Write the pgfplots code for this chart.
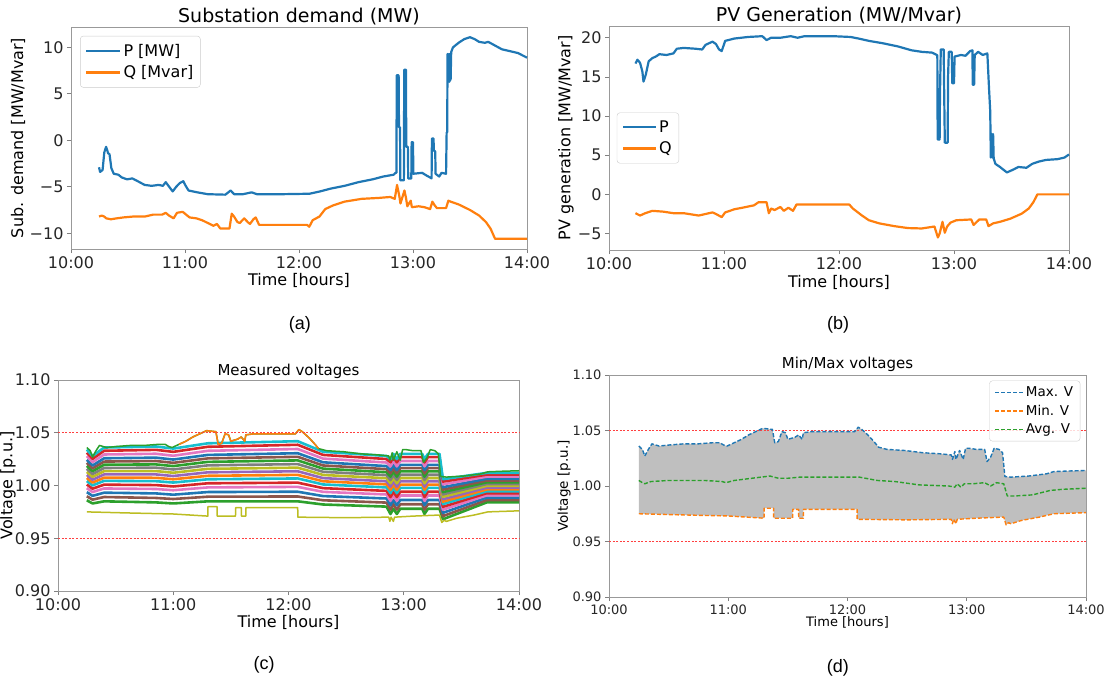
\documentclass[border=0pt]{standalone}
\usepackage{fontspec}
\setmainfont{DejaVu Sans}
\newfontfamily\arialf{Liberation Sans}
\usepackage{pgfplots}
\usepackage{pgfplotstable}
\pgfplotsset{compat=1.18}
\definecolor{tabblue}{HTML}{1F77B4}
\definecolor{taborange}{HTML}{FF7F0E}
\definecolor{tabgreen}{HTML}{2CA02C}
\definecolor{tabred}{HTML}{D62728}
\definecolor{tabpurple}{HTML}{9467BD}
\definecolor{tabbrown}{HTML}{8C564B}
\definecolor{tabpink}{HTML}{E377C2}
\definecolor{tabgray}{HTML}{7F7F7F}
\definecolor{tabolive}{HTML}{BCBD22}
\definecolor{tabcyan}{HTML}{17BECF}
\definecolor{fillgray}{HTML}{BFBFBF}
\newcommand\fs[1]{\fontsize{#1}{#1}\selectfont}
\pgfplotscreateplotcyclelist{tab}{
{tabgreen,line width=2.6pt},{tabbrown,line width=2.6pt},{tabblue,line width=2.6pt},{tabpink,line width=2.6pt},{tabred,line width=2.6pt},
{tabcyan,line width=2.6pt},{taborange,line width=2.6pt},{tabpurple,line width=2.6pt},{tabolive,line width=2.6pt},{tabgray,line width=2.6pt}}
\pgfplotsset{
 every axis title shift=0pt,
 mpl/.style={scale only axis, anchor=south west, clip=false,
  xmin=10, xmax=14, xtick={10,11,12,13,14},
  xticklabels={10:00,11:00,12:00,13:00,14:00},
  axis line style={black!40, line width=0.8pt},
  tick align=outside, tick pos=left, major tick length=4pt,
  tick style={black!50, line width=0.8pt},
  legend cell align=left,
  every axis plot/.append style={line join=round},
 },
 redlim/.style={red!75, dash pattern=on 2pt off 1.6pt, line width=1.2pt},
}
\pgfplotstableread{
t v
10.25 1.036
10.28 1.033
10.30 1.027
10.33 1.033
10.36 1.038
10.42 1.036
10.51 1.037
10.63 1.038
10.75 1.038
10.87 1.039
10.93 1.039
10.96 1.037
10.99 1.036
11.05 1.039
11.11 1.042
11.17 1.046
11.23 1.049
11.29 1.052
11.37 1.051
11.39 1.039
11.42 1.040
11.45 1.049
11.48 1.048
11.50 1.042
11.56 1.044
11.59 1.046
11.62 1.042
11.63 1.048
11.70 1.049
11.88 1.049
12.06 1.049
12.09 1.053
12.12 1.051
12.18 1.045
12.23 1.039
12.26 1.035
12.33 1.033
12.48 1.032
12.63 1.030
12.78 1.029
12.87 1.028
12.88 1.024
12.90 1.031
12.91 1.024
12.94 1.032
12.97 1.024
12.99 1.034
13.02 1.034
13.08 1.033
13.15 1.033
13.17 1.022
13.20 1.026
13.23 1.034
13.27 1.033
13.30 1.030
13.32 1.0085
13.37 1.008
13.52 1.009
13.67 1.011
13.73 1.013
13.85 1.0135
14.00 1.014
}\maxtab
\pgfplotstableread{
t v
10.25 0.975
10.60 0.974
11.00 0.973
11.30 0.971
11.301 0.980
11.38 0.980
11.381 0.971
11.54 0.971
11.541 0.979
11.59 0.979
11.591 0.971
11.63 0.971
11.631 0.979
12.08 0.979
12.081 0.970
12.50 0.9695
12.87 0.970
12.88 0.966
12.89 0.970
12.91 0.966
12.92 0.970
13.08 0.971
13.31 0.972
13.33 0.965
13.35 0.967
13.37 0.966
13.46 0.969
13.61 0.972
13.73 0.975
14.00 0.976
}\mintab
\pgfplotstableread{
t v
10.25 1.005
10.28 1.003
10.30 1.002
10.35 1.004
10.50 1.005
10.80 1.005
10.95 1.004
10.98 1.003
11.05 1.005
11.20 1.007
11.35 1.009
11.42 1.007
11.50 1.007
11.60 1.008
11.80 1.008
12.10 1.008
12.25 1.005
12.40 1.004
12.60 1.001
12.85 1.000
12.90 0.999
12.92 1.002
12.95 0.999
12.98 1.002
13.05 1.002
13.15 1.003
13.20 1.000
13.25 1.003
13.31 1.002
13.34 0.991
13.40 0.991
13.55 0.992
13.70 0.996
13.80 0.997
14.00 0.998
}\avgtab
\pgfplotstableread{
t a0 a1 a2 a3 a4 a5 a6 a7 a8 a9 a10 a11 a12 a13 a14 a15
10.25 0.9860 0.9898 0.9937 0.9975 1.0009 1.0042 1.0071 1.0100 1.0129 1.0158 1.0186 1.0215 1.0244 1.0278 1.0311 1.0340
10.30 0.9830 0.9866 0.9902 0.9938 0.9970 1.0001 1.0028 1.0055 1.0082 1.0109 1.0136 1.0163 1.0190 1.0222 1.0253 1.0280
10.40 0.9850 0.9891 0.9932 0.9972 1.0008 1.0044 1.0074 1.0105 1.0136 1.0166 1.0197 1.0227 1.0258 1.0294 1.0329 1.0360
10.85 0.9840 0.9882 0.9925 0.9967 1.0004 1.0041 1.0073 1.0105 1.0137 1.0169 1.0200 1.0232 1.0264 1.0301 1.0338 1.0370
11.00 0.9830 0.9872 0.9913 0.9955 0.9991 1.0028 1.0059 1.0090 1.0121 1.0152 1.0184 1.0215 1.0246 1.0282 1.0319 1.0350
11.30 0.9850 0.9894 0.9938 0.9982 1.0021 1.0059 1.0092 1.0125 1.0158 1.0191 1.0224 1.0257 1.0290 1.0329 1.0367 1.0400
12.08 0.9850 0.9896 0.9941 0.9987 1.0027 1.0067 1.0101 1.0135 1.0169 1.0203 1.0238 1.0272 1.0306 1.0346 1.0386 1.0420
12.30 0.9820 0.9860 0.9900 0.9940 0.9975 1.0010 1.0040 1.0070 1.0100 1.0130 1.0160 1.0190 1.0220 1.0255 1.0290 1.0320
12.85 0.9800 0.9838 0.9877 0.9915 0.9949 0.9982 1.0011 1.0040 1.0069 1.0098 1.0126 1.0155 1.0184 1.0218 1.0251 1.0280
12.885 0.9730 0.9772 0.9813 0.9855 0.9891 0.9928 0.9959 0.9990 1.0021 1.0052 1.0084 1.0115 1.0146 1.0182 1.0219 1.0250
12.91 0.9780 0.9822 0.9863 0.9905 0.9941 0.9978 1.0009 1.0040 1.0071 1.0102 1.0134 1.0165 1.0196 1.0232 1.0269 1.0300
12.94 0.9730 0.9772 0.9813 0.9855 0.9891 0.9928 0.9959 0.9990 1.0021 1.0052 1.0084 1.0115 1.0146 1.0182 1.0219 1.0250
12.97 0.9780 0.9822 0.9863 0.9905 0.9941 0.9978 1.0009 1.0040 1.0071 1.0102 1.0134 1.0165 1.0196 1.0232 1.0269 1.0300
13.16 0.9780 0.9822 0.9863 0.9905 0.9941 0.9978 1.0009 1.0040 1.0071 1.0102 1.0134 1.0165 1.0196 1.0232 1.0269 1.0300
13.18 0.9730 0.9772 0.9813 0.9855 0.9891 0.9928 0.9959 0.9990 1.0021 1.0052 1.0084 1.0115 1.0146 1.0182 1.0219 1.0250
13.21 0.9780 0.9822 0.9863 0.9905 0.9941 0.9978 1.0009 1.0040 1.0071 1.0102 1.0134 1.0165 1.0196 1.0232 1.0269 1.0300
13.31 0.9780 0.9822 0.9863 0.9905 0.9941 0.9978 1.0009 1.0040 1.0071 1.0102 1.0134 1.0165 1.0196 1.0232 1.0269 1.0300
13.34 0.9680 0.9710 0.9741 0.9771 0.9798 0.9824 0.9847 0.9870 0.9893 0.9916 0.9938 0.9961 0.9984 1.0011 1.0037 1.0060
13.72 0.9840 0.9862 0.9885 0.9907 0.9927 0.9946 0.9963 0.9980 0.9997 1.0014 1.0030 1.0047 1.0064 1.0084 1.0103 1.0120
14.00 0.9840 0.9862 0.9885 0.9907 0.9927 0.9946 0.9963 0.9980 0.9997 1.0014 1.0030 1.0047 1.0064 1.0084 1.0103 1.0120
}\bandtab
\begin{document}
\begin{tikzpicture}
\path[use as bounding box] (0pt,0pt) rectangle (1105pt,-680pt);
% ---------------- (a)
\begin{axis}[mpl, at={(71pt,-249pt)}, width=456pt, height=222pt,
 ymin=-11.7, ymax=12.2, ytick={-10,-5,0,5,10}, yticklabels={−10,−5,0,5,10},
 ticklabel style={font=\fs{16}, text=black!85},
 title={Substation demand (MW)}, title style={font=\fs{19}, at={(axis description cs:0.5,1.045)}, anchor=center},
 xlabel={Time [hours]}, xlabel style={font=\fs{16}, at={(axis description cs:0.5,-0.14)}, anchor=center},
 ylabel={Sub. demand [MW/Mvar]}, ylabel style={font=\fs{16}, at={(axis description cs:-0.116,0.5)}, anchor=center},
 legend style={at={(0.02,0.96)}, anchor=north west, font=\fs{16}, draw=black!20, rounded corners=3pt, fill=white, fill opacity=0.8, text opacity=1, inner xsep=5pt, inner ysep=6pt, row sep=4pt},
 legend image code/.code={\draw[#1] (0pt,0pt) -- (34pt,0pt);},
]
\addplot[tabblue, line width=2.2pt] coordinates {(10.246,-2.9)(10.255,-3.4)(10.277,-3.2)(10.292,-1.3)(10.308,-0.7)(10.326,-1.4)(10.338,-1.5)(10.354,-3.0)(10.375,-3.6)(10.415,-3.7)(10.446,-4.0)(10.492,-4.2)(10.538,-4.1)(10.585,-4.4)(10.646,-4.8)(10.708,-4.9)(10.769,-4.8)(10.806,-4.9)(10.831,-4.5)(10.855,-4.9)(10.892,-5.5)(10.923,-5.0)(10.954,-4.6)(10.985,-4.4)(11.006,-4.9)(11.031,-5.4)(11.108,-5.6)(11.2,-5.8)(11.354,-5.85)(11.4,-5.4)(11.431,-5.8)(11.508,-5.8)(11.585,-5.6)(11.631,-5.8)(11.846,-5.8)(12.092,-5.75)(12.185,-5.5)(12.277,-5.2)(12.4,-4.9)(12.523,-4.5)(12.646,-4.2)(12.738,-3.9)(12.831,-3.7)(12.846,-3.5)(12.855,-3.5)(12.857,7.0)(12.874,7.0)(12.877,1.4)(12.886,1.4)(12.889,-4.3)(12.92,-4.3)(12.923,7.6)(12.938,7.6)(12.941,-0.7)(12.955,-0.7)(12.958,-4.1)(12.985,-4.1)(12.988,-0.2)(13.0,-0.2)(13.003,-3.6)(13.08,-3.5)(13.12,-3.8)(13.15,-4.0)(13.163,-4.1)(13.166,0.2)(13.18,0.2)(13.183,-1.1)(13.195,-1.2)(13.198,-3.6)(13.23,-3.9)(13.25,-3.5)(13.29,-3.6)(13.295,0.8)(13.30,0.9)(13.303,9.3)(13.31,6.3)(13.315,9.3)(13.32,6.3)(13.325,9.3)(13.33,6.5)(13.335,9.5)(13.35,10.0)(13.40,10.5)(13.45,10.9)(13.50,11.1)(13.54,10.9)(13.58,10.6)(13.63,10.5)(13.66,10.6)(13.72,10.2)(13.78,9.8)(13.85,9.6)(13.92,9.4)(14.0,8.9)};
\addlegendentry{P [MW]}
\addplot[taborange, line width=2.2pt] coordinates {(10.246,-8.2)(10.27,-8.1)(10.29,-8.2)(10.31,-8.4)(10.35,-8.5)(10.40,-8.4)(10.46,-8.3)(10.55,-8.2)(10.65,-8.2)(10.72,-8.0)(10.80,-8.0)(10.83,-7.8)(10.86,-8.1)(10.90,-8.4)(10.93,-7.8)(10.98,-7.7)(11.01,-8.0)(11.04,-8.3)(11.10,-8.4)(11.15,-8.6)(11.20,-8.9)(11.25,-9.2)(11.28,-9.0)(11.31,-9.5)(11.39,-9.5)(11.41,-7.9)(11.43,-8.2)(11.46,-8.8)(11.48,-8.9)(11.52,-8.4)(11.55,-8.8)(11.57,-9.0)(11.60,-8.5)(11.62,-8.3)(11.65,-9.1)(11.80,-9.1)(12.07,-9.1)(12.09,-9.3)(12.12,-8.6)(12.18,-8.2)(12.23,-7.4)(12.30,-7.0)(12.40,-6.6)(12.55,-6.3)(12.70,-6.2)(12.80,-6.1)(12.84,-6.3)(12.86,-4.8)(12.87,-5.4)(12.88,-6.0)(12.89,-6.8)(12.91,-6.0)(12.925,-5.4)(12.94,-6.3)(12.95,-7.1)(12.98,-6.5)(12.99,-7.2)(13.05,-7.1)(13.10,-7.2)(13.15,-7.4)(13.17,-6.6)(13.19,-7.0)(13.21,-7.3)(13.29,-7.3)(13.31,-6.5)(13.33,-6.6)(13.40,-6.9)(13.50,-7.5)(13.58,-8.1)(13.64,-8.8)(13.68,-9.5)(13.72,-10.6)(14.0,-10.6)};
\addlegendentry{Q [Mvar]}
\node[font=\arialf\fs{18}] at (axis description cs:0.502,-0.342) {(a)};
\end{axis}
% ---------------- (b)
\begin{axis}[mpl, at={(609pt,-250pt)}, width=460pt, height=224pt,
 ymin=-7.1, ymax=21.5, ytick={-5,0,5,10,15,20}, yticklabels={−5,0,5,10,15,20},
 ticklabel style={font=\fs{16}, text=black!85},
 title={PV Generation (MW/Mvar)}, title style={font=\fs{19}, at={(axis description cs:0.5,1.045)}, anchor=center},
 xlabel={Time [hours]}, xlabel style={font=\fs{16}, at={(axis description cs:0.5,-0.147)}, anchor=center},
 ylabel={PV generation [MW/Mvar]}, ylabel style={font=\fs{16}, at={(axis description cs:-0.0935,0.5)}, anchor=center},
 legend style={at={(0.017,0.5)}, anchor=west, font=\fs{16}, draw=black!20, rounded corners=3pt, fill=white, fill opacity=0.8, text opacity=1, inner xsep=5pt, inner ysep=6pt, row sep=4pt},
 legend image code/.code={\draw[#1] (0pt,0pt) -- (33pt,0pt);},
]
\addplot[tabblue, line width=2.2pt] coordinates {(10.23,16.7)(10.247,17.2)(10.27,16.8)(10.29,15.7)(10.30,14.4)(10.32,15.3)(10.345,17.0)(10.377,17.4)(10.407,17.6)(10.438,17.9)(10.50,17.8)(10.56,18.0)(10.59,18.6)(10.65,18.7)(10.75,18.6)(10.81,18.5)(10.84,19.1)(10.90,19.5)(10.93,19.2)(10.957,18.5)(10.98,18.3)(11.01,19.6)(11.09,19.9)(11.21,20.1)(11.333,20.2)(11.37,19.7)(11.41,20.0)(11.49,20.0)(11.58,20.2)(11.64,20.0)(11.70,20.2)(11.95,20.2)(12.10,20.1)(12.17,19.9)(12.26,19.6)(12.38,19.3)(12.51,18.9)(12.63,18.4)(12.72,18.2)(12.81,18.1)(12.85,17.8)(12.855,17.8)(12.858,7.0)(12.875,7.0)(12.878,12.7)(12.885,18.5)(12.91,18.5)(12.915,12.5)(12.92,6.6)(12.945,6.6)(12.948,14.9)(12.955,18.2)(12.98,18.2)(12.985,14.2)(13.0,14.2)(13.005,17.6)(13.06,17.8)(13.10,17.7)(13.14,18.3)(13.16,18.4)(13.163,14.0)(13.175,14.0)(13.18,17.8)(13.21,18.2)(13.25,17.8)(13.29,18.0)(13.305,13.4)(13.315,10.6)(13.32,4.7)(13.33,7.7)(13.335,4.7)(13.34,7.7)(13.345,4.6)(13.36,3.9)(13.40,3.5)(13.46,2.8)(13.52,3.2)(13.56,3.5)(13.63,3.4)(13.68,3.9)(13.74,4.2)(13.80,4.4)(13.90,4.5)(13.96,4.7)(14.0,5.1)};
\addlegendentry{P}
\addplot[taborange, line width=2.2pt] coordinates {(10.23,-2.4)(10.27,-2.7)(10.315,-2.4)(10.377,-2.1)(10.47,-2.2)(10.56,-2.4)(10.65,-2.4)(10.78,-2.7)(10.84,-2.5)(10.90,-2.3)(10.93,-2.5)(10.98,-2.9)(11.01,-2.3)(11.09,-1.9)(11.16,-1.7)(11.26,-1.4)(11.30,-1.0)(11.37,-1.0)(11.39,-2.4)(11.41,-1.8)(11.44,-2.0)(11.49,-1.6)(11.52,-2.1)(11.56,-1.7)(11.60,-2.1)(11.63,-1.3)(12.09,-1.3)(12.12,-1.8)(12.20,-2.7)(12.26,-3.3)(12.35,-3.7)(12.48,-4.05)(12.60,-4.3)(12.72,-4.35)(12.83,-4.1)(12.86,-5.5)(12.875,-5.0)(12.90,-3.5)(12.92,-4.9)(12.94,-4.1)(12.97,-3.6)(13.02,-3.3)(13.15,-3.2)(13.17,-3.9)(13.22,-3.2)(13.28,-3.2)(13.30,-4.05)(13.34,-3.7)(13.40,-3.5)(13.49,-3.1)(13.59,-2.45)(13.65,-1.8)(13.69,-1.0)(13.725,0)(14.0,0)};
\addlegendentry{Q}
\node[font=\arialf\fs{18}] at (axis description cs:0.498,-0.335) {(b)};
\end{axis}
% ---------------- (c)
\begin{axis}[mpl, at={(58pt,-591pt)}, width=461pt, height=211pt,
 ymin=0.9, ymax=1.1, ytick={0.9,0.95,1.0,1.05,1.1}, yticklabels={0.90,0.95,1.00,1.05,1.10},
 ticklabel style={font=\fs{16}, text=black!85},
 title={Measured voltages}, title style={font=\fs{15}, at={(axis description cs:0.5,1.043)}, anchor=center},
 xlabel={Time [hours]}, xlabel style={font=\fs{16}, at={(axis description cs:0.5,-0.147)}, anchor=center},
 ylabel={Voltage [p.u.]}, ylabel style={font=\fs{16}, at={(axis description cs:-0.1085,0.5)}, anchor=center},
 cycle list name=tab,
]
\pgfplotsinvokeforeach{0,...,15}{\addplot+[] table[x=t,y=a#1]{\bandtab};}
\addplot[tabolive, line width=1.5pt] table[x=t,y=v]{\mintab};
\addplot[tabgreen, line width=1.5pt] table[x=t,y=v]{\maxtab};
\addplot[taborange, line width=1.5pt, restrict x to domain=11.02:12.28] table[x=t,y=v]{\maxtab};
\addplot[redlim, forget plot] coordinates {(10,1.05)(14,1.05)};
\addplot[redlim, forget plot] coordinates {(10,0.95)(14,0.95)};
\node[font=\arialf\fs{18}] at (axis description cs:0.447,-0.35) {(c)};
\end{axis}
% ---------------- (d)
\begin{axis}[mpl, at={(609pt,-597pt)}, width=477pt, height=222pt,
 ymin=0.9, ymax=1.1, ytick={0.9,0.95,1.0,1.05,1.1}, yticklabels={0.90,0.95,1.00,1.05,1.10},
 ticklabel style={font=\fs{13}, text=black!85},
 title={Min/Max voltages}, title style={font=\fs{15}, at={(axis description cs:0.5,1.05)}, anchor=center},
 xlabel={Time [hours]}, xlabel style={font=\fs{13}, at={(axis description cs:0.5,-0.116)}, anchor=center},
 ylabel={Voltage [p.u.]}, ylabel style={font=\fs{13.5}, at={(axis description cs:-0.0943,0.5)}, anchor=center},
 legend style={at={(0.988,0.975)}, anchor=north east, font=\fs{13.5}, draw=black!20, rounded corners=3pt, fill=white, fill opacity=0.8, text opacity=1, inner xsep=5pt, inner ysep=4pt, row sep=3pt},
 legend image code/.code={\draw[#1] (0pt,0pt) -- (28pt,0pt);},
]
\addplot[fill=fillgray, draw=none, forget plot] coordinates {(10.25,1.036)(10.28,1.033)(10.30,1.027)(10.33,1.033)(10.36,1.038)(10.42,1.036)(10.51,1.037)(10.63,1.038)(10.75,1.038)(10.87,1.039)(10.93,1.039)(10.96,1.037)(10.99,1.036)(11.05,1.039)(11.11,1.042)(11.17,1.046)(11.23,1.049)(11.29,1.052)(11.37,1.051)(11.39,1.039)(11.42,1.040)(11.45,1.049)(11.48,1.048)(11.50,1.042)(11.56,1.044)(11.59,1.046)(11.62,1.042)(11.63,1.048)(11.70,1.049)(11.88,1.049)(12.06,1.049)(12.09,1.053)(12.12,1.051)(12.18,1.045)(12.23,1.039)(12.26,1.035)(12.33,1.033)(12.48,1.032)(12.63,1.030)(12.78,1.029)(12.87,1.028)(12.88,1.024)(12.90,1.031)(12.91,1.024)(12.94,1.032)(12.97,1.024)(12.99,1.034)(13.02,1.034)(13.08,1.033)(13.15,1.033)(13.17,1.022)(13.20,1.026)(13.23,1.034)(13.27,1.033)(13.30,1.030)(13.32,1.0085)(13.37,1.008)(13.52,1.009)(13.67,1.011)(13.73,1.013)(13.85,1.0135)(14.00,1.014)
(14.00,0.976)(13.73,0.975)(13.61,0.972)(13.46,0.969)(13.37,0.966)(13.35,0.967)(13.33,0.965)(13.31,0.972)(13.08,0.971)(12.92,0.970)(12.91,0.966)(12.89,0.970)(12.88,0.966)(12.87,0.970)(12.50,0.9695)(12.081,0.970)(12.08,0.979)(11.631,0.979)(11.63,0.971)(11.591,0.971)(11.59,0.979)(11.541,0.979)(11.54,0.971)(11.381,0.971)(11.38,0.980)(11.301,0.980)(11.30,0.971)(11.00,0.973)(10.60,0.974)(10.25,0.975)};
\addplot[redlim, forget plot] coordinates {(10,1.05)(14,1.05)};
\addplot[redlim, forget plot] coordinates {(10,0.95)(14,0.95)};
\addplot[tabblue, line width=1.4pt, dash pattern=on 4pt off 2pt] table[x=t,y=v]{\maxtab};
\addlegendentry{Max. V}
\addplot[taborange, line width=1.4pt, dash pattern=on 4pt off 2pt] table[x=t,y=v]{\mintab};
\addlegendentry{Min. V}
\addplot[tabgreen, line width=1.4pt, dash pattern=on 4pt off 2pt] table[x=t,y=v]{\avgtab};
\addlegendentry{Avg. V}
\node[font=\arialf\fs{18}] at (axis description cs:0.48,-0.32) {(d)};
\end{axis}
\end{tikzpicture}
\end{document}
